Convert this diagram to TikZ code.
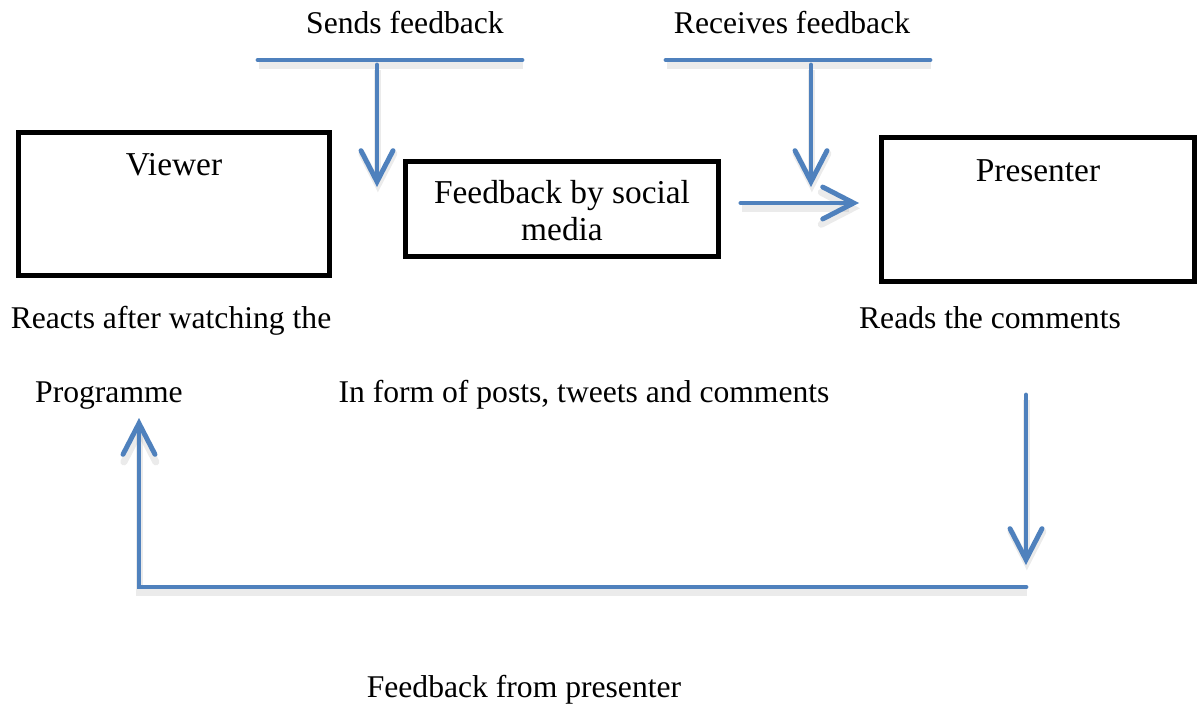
\documentclass[tikz,border=0pt]{standalone}
\usepackage{fontspec}
\setmainfont{Liberation Serif}
\usetikzlibrary{arrows.meta, positioning}

\definecolor{flowblue}{RGB}{79,129,189}

\begin{document}
\begin{tikzpicture}[
        x=0.02cm, y=-0.02cm,
        box/.style={rectangle, draw=black, line width=2.8pt, inner sep=0pt},
        title/.style={anchor=base, align=center, font=\fontsize{19}{21}\selectfont},
        note/.style={anchor=base, font=\fontsize{18}{21}\selectfont},
        flow/.style={draw=flowblue, line width=2.8pt, line cap=round,
            preaction={draw=black!40, opacity=0.2, line width=4pt, transform canvas={xshift=0.5pt, yshift=-3pt}}},
        arr/.style={flow, -{Straight Barb[length=0.62cm, width=0.64cm, line cap=round]}}
    ]
        \useasboundingbox (0,0) rectangle (1198,704);

        % boxes
        \node[box, minimum width=6.22cm, minimum height=2.86cm] (viewer) at (174,204) {};
        \node[box, minimum width=6.26cm, minimum height=1.9cm] (social) at (562,209) {};
        \node[box, minimum width=6.26cm, minimum height=2.88cm] (presenter) at (1038,209.5) {};

        \node[title] (viewerlbl) at (174,175) {Viewer};
        \node[title] (sociallbl) at (562,240) {Feedback by social\\media};
        \node[title] (presenterlbl) at (1038,181) {Presenter};

        % texts
        \node[note] (sends) at (405,33) {Sends feedback};
        \node[note] (receives) at (792,33) {Receives feedback};
        \node[note] (reacts) at (171,328) {Reacts after watching the};
        \node[note] (programme) at (109,402) {Programme};
        \node[note] (forms) at (584,402) {In form of posts, tweets and comments};
        \node[note] (reads) at (990,328) {Reads the comments};
        \node[note] (frompres) at (524,697) {Feedback from presenter};

        % feedback lines
        \coordinate (sendsL) at (258,60);
        \coordinate (sendsR) at (522,60);
        \coordinate (sendsTop) at (377,65);
        \coordinate (sendsTip) at (377,187);
        \draw[flow] (sendsL) -- (sendsR);
        \draw[arr] (sendsTop) -- (sendsTip);

        \coordinate (recvL) at (666,60);
        \coordinate (recvR) at (930,60);
        \coordinate (recvTop) at (811,65);
        \coordinate (recvTip) at (811,187);
        \draw[flow] (recvL) -- (recvR);
        \draw[arr] (recvTop) -- (recvTip);

        \draw[arr] ([shift={(20,-6)}]social.east) -- ([shift={(-20,-6.5)}]presenter.west);

        % loop back to viewer
        \coordinate (readsTop) at (1026,395);
        \coordinate (readsTip) at (1026,565);
        \draw[arr] (readsTop) -- (readsTip);

        \coordinate (loopR) at (1026,587);
        \coordinate (loopL) at (139,587);
        \coordinate (loopTip) at (139,418);
        \draw[arr] (loopR) -- (loopL) -- (loopTip);
    \end{tikzpicture}
\end{document}
